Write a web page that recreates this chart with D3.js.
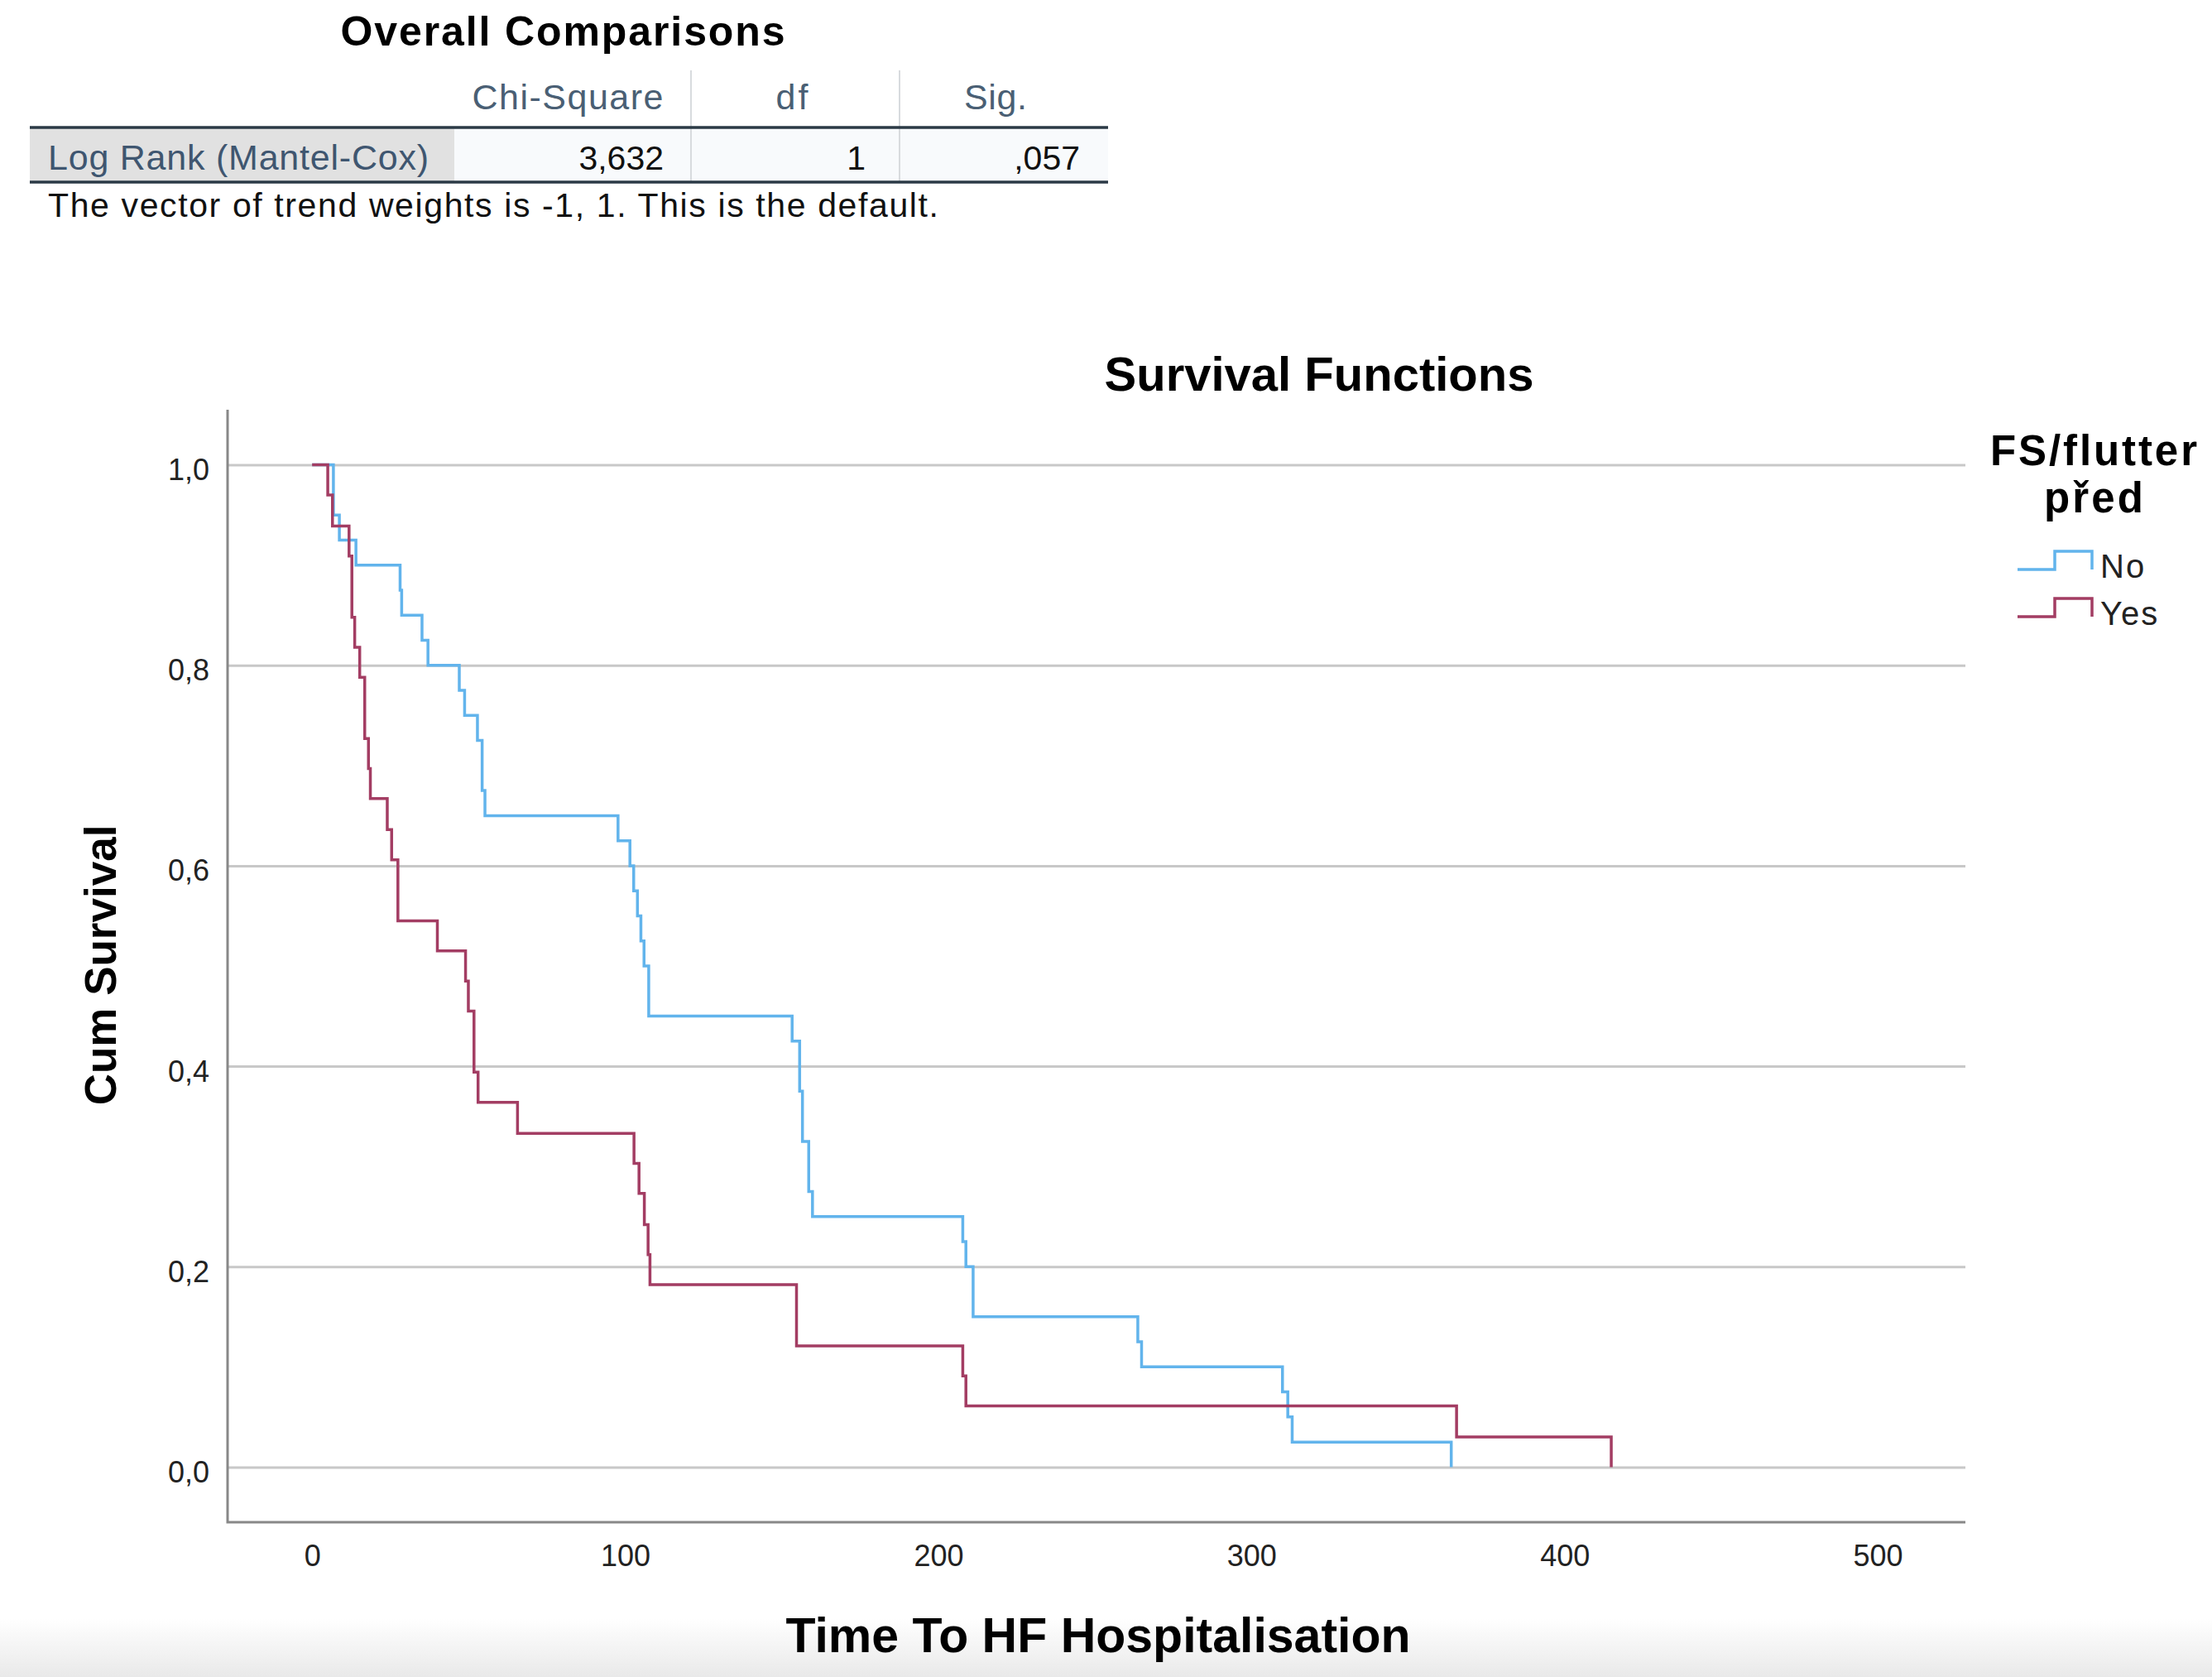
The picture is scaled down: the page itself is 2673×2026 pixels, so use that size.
<!DOCTYPE html>
<html>
<head>
<meta charset="utf-8">
<script src="https://cdn.jsdelivr.net/npm/d3@7"></script>
<style>
    body { margin: 0; background: #fff; }
    svg text { font-family: "Liberation Sans", Arial, sans-serif; }
</style>
</head>
<body>
<div id="chart"></div>
<script>

const groupNames = ["No", "Yes"];

// FS/flutter před = No
const noTimes = [0, 6.8, 8.7, 14, 28.1, 28.6, 35.1, 37, 47, 48.7, 52.8, 54.3, 55.2, 97.7, 101.5,
    102.7, 103.9, 105, 106, 107.5, 153.3, 155.7, 156.6, 158.6, 159.8, 207.8, 208.8, 211.1,
    263.7, 264.9, 309.9, 311.6, 313, 363.8];
const noSurvival = [1, 0.95, 0.925, 0.9, 0.875, 0.85, 0.825, 0.8, 0.775, 0.75, 0.725, 0.675, 0.65, 0.625, 0.6,
    0.575, 0.55, 0.525, 0.5, 0.45, 0.425, 0.375, 0.325, 0.275, 0.25, 0.225, 0.2, 0.15,
    0.125, 0.1, 0.075, 0.05, 0.025, 0];

// FS/flutter před = Yes
const yesTimes = [0, 5, 6.5, 11.8, 12.7, 13.6, 15.2, 16.8, 18, 18.6, 24, 25.4, 27.4, 40, 49,
    49.9, 51.7, 53, 65.6, 102.8, 104.4, 106.1, 107.3, 107.9, 154.7, 207.8, 208.8, 365.5, 414.9];
const yesSurvival = [1, 0.970, 0.939, 0.909, 0.848, 0.818, 0.788, 0.727, 0.697, 0.667, 0.636, 0.606, 0.545, 0.515, 0.485,
    0.455, 0.394, 0.364, 0.333, 0.303, 0.273, 0.242, 0.212, 0.182, 0.121, 0.091, 0.061, 0.030, 0];

const xTicks = [0, 100, 200, 300, 400, 500];
const yTicks = [0, 0.2, 0.4, 0.6, 0.8, 1.0];

// comparison table
const tableTitle = "Overall Comparisons";
const tableHeaders = ["Chi-Square", "df", "Sig."];
const tableRowLabel = "Log Rank (Mantel-Cox)";
const tableValues = ["3,632", "1", ",057"];
const tableNote = "The vector of trend weights is -1, 1. This is the default.";


// ---------- page ----------

const W = 2673, H = 2026;

const svg = d3.select("#chart").append("svg")
    .attr("width", W)
    .attr("height", H);

// light grey strip at the bottom of the screenshot
let grad = svg.append("defs").append("linearGradient")
    .attr("id", "bottomFade")
    .attr("x1", 0).attr("x2", 0).attr("y1", 0).attr("y2", 1);
grad.append("stop").attr("offset", "0%").attr("stop-color", "#ffffff");
grad.append("stop").attr("offset", "100%").attr("stop-color", "#e9e9e9");
svg.append("rect")
    .attr("x", 0).attr("y", 1955)
    .attr("width", W).attr("height", H - 1955)
    .attr("fill", "url(#bottomFade)");


// ---------- table ----------

function drawTable() {
    let t = svg.append("g").attr("class", "table");

    let colEdges = [36, 549, 835, 1087, 1339];
    let headerCenter = [686, 957, 1203];
    let headerWidth = [231, 39, 76];
    let valueRight = [802, 1046, 1305];

    t.append("text")
        .attr("x", 680)
        .attr("y", 55)
        .attr("text-anchor", "middle")
        .attr("font-size", 50)
        .attr("font-weight", "bold")
        .attr("textLength", 537)
        .attr("fill", "#000")
        .text(tableTitle);

    // row cells
    t.append("rect")
        .attr("x", colEdges[0]).attr("y", 154)
        .attr("width", colEdges[1] - colEdges[0]).attr("height", 66)
        .attr("fill", "#e1e1e1");
    t.append("rect")
        .attr("x", colEdges[1]).attr("y", 154)
        .attr("width", colEdges[4] - colEdges[1]).attr("height", 66)
        .attr("fill", "#f8fafc");

    // column separators
    t.selectAll("line.sep")
        .data(colEdges.slice(2, 4))
        .enter()
        .append("line")
        .attr("class", "sep")
        .attr("x1", d => d).attr("x2", d => d)
        .attr("y1", 85).attr("y2", 220)
        .attr("stroke", "#d8dbde")
        .attr("stroke-width", 2);

    t.selectAll("text.head")
        .data(tableHeaders)
        .enter()
        .append("text")
        .attr("class", "head")
        .attr("x", (d, i) => headerCenter[i])
        .attr("y", 132)
        .attr("text-anchor", "middle")
        .attr("font-size", 43)
        .attr("textLength", (d, i) => headerWidth[i])
        .attr("fill", "#4a5f74")
        .text(d => d);

    [154, 220].forEach(y => {
        t.append("line")
            .attr("x1", colEdges[0]).attr("x2", colEdges[4])
            .attr("y1", y).attr("y2", y)
            .attr("stroke", "#2b3a46")
            .attr("stroke-width", 3.5);
    });

    t.append("text")
        .attr("x", 58)
        .attr("y", 205)
        .attr("font-size", 43)
        .attr("textLength", 460)
        .attr("fill", "#3f5670")
        .text(tableRowLabel);

    t.selectAll("text.val")
        .data(tableValues)
        .enter()
        .append("text")
        .attr("class", "val")
        .attr("x", (d, i) => valueRight[i])
        .attr("y", 205)
        .attr("text-anchor", "end")
        .attr("font-size", 41)
        .attr("fill", "#111")
        .text(d => d);

    t.append("text")
        .attr("x", 58)
        .attr("y", 262)
        .attr("font-size", 41)
        .attr("textLength", 1076)
        .attr("fill", "#111")
        .text(tableNote);
}


// ---------- survival chart ----------

class SurvivalChart {

    constructor(parent) {
        this.parent = parent;
        this.initVis();
    }

    initVis() {
        let vis = this;

        // plot frame in page pixels
        vis.left = 275;
        vis.right = 2375;
        vis.top = 495;
        vis.bottom = 1839;

        vis.g = vis.parent.append("g").attr("class", "km");

        vis.x = d3.scaleLinear()
            .domain([-27, 528])
            .range([vis.left, vis.right]);
        vis.y = d3.scaleLinear()
            .domain([-0.055, 1.055])
            .range([vis.bottom, vis.top]);

        let comma = d3.formatLocale({decimal: ",", thousands: ".", grouping: [3], currency: ["", ""]});

        // y axis + grid lines
        vis.yAxis = d3.axisLeft(vis.y)
            .tickValues(yTicks)
            .tickSize(-(vis.right - vis.left))
            .tickPadding(22)
            .tickFormat(comma.format(".1f"));

        vis.yG = vis.g.append("g")
            .attr("transform", "translate(" + vis.left + ",0)")
            .call(vis.yAxis);
        vis.yG.select(".domain").remove();
        vis.yG.selectAll(".tick line")
            .attr("stroke", "#c8c8c8")
            .attr("stroke-width", 3);
        vis.yG.selectAll(".tick text")
            .attr("font-size", 36)
            .attr("dy", "0.5em")
            .attr("fill", "#222");

        // x axis
        vis.xAxis = d3.axisBottom(vis.x)
            .tickValues(xTicks)
            .tickSize(0)
            .tickPadding(27)
            .tickFormat(d3.format("d"));

        vis.xG = vis.g.append("g")
            .attr("transform", "translate(0," + vis.bottom + ")")
            .call(vis.xAxis);
        vis.xG.select(".domain").remove();
        vis.xG.selectAll(".tick text")
            .attr("font-size", 36)
            .attr("fill", "#222");

        // L shaped frame
        vis.g.append("path")
            .attr("d", "M" + vis.left + "," + vis.top + "V" + vis.bottom + "H" + vis.right)
            .attr("fill", "none")
            .attr("stroke", "#888")
            .attr("stroke-width", 3);

        // titles
        vis.g.append("text")
            .attr("x", 1594)
            .attr("y", 472)
            .attr("text-anchor", "middle")
            .attr("font-size", 58)
            .attr("font-weight", "bold")
            .text("Survival Functions");

        vis.g.append("text")
            .attr("transform", "translate(140,1166) rotate(-90)")
            .attr("text-anchor", "middle")
            .attr("font-size", 53)
            .attr("font-weight", "bold")
            .text("Cum Survival");

        vis.g.append("text")
            .attr("x", 1327)
            .attr("y", 1996)
            .attr("text-anchor", "middle")
            .attr("font-size", 59)
            .attr("font-weight", "bold")
            .text("Time To HF Hospitalisation");

        vis.line = d3.line()
            .x(d => vis.x(d.t))
            .y(d => vis.y(d.s))
            .curve(d3.curveStepAfter);
    }

    updateVis(series) {
        let vis = this;

        vis.g.selectAll("path.curve")
            .data(series)
            .enter()
            .append("path")
            .attr("class", "curve")
            .attr("d", d => vis.line(d.values))
            .attr("fill", "none")
            .attr("stroke", d => d.color)
            .attr("stroke-width", 3.5)
            .attr("stroke-linejoin", "miter");

        // legend
        let leg = vis.parent.append("g").attr("class", "legend");

        leg.append("text")
            .attr("x", 2530)
            .attr("y", 562)
            .attr("text-anchor", "middle")
            .attr("font-size", 51)
            .attr("font-weight", "bold")
            .attr("textLength", 250)
            .text("FS/flutter");
        leg.append("text")
            .attr("x", 2530)
            .attr("y", 619)
            .attr("text-anchor", "middle")
            .attr("font-size", 51)
            .attr("font-weight", "bold")
            .attr("textLength", 120)
            .text("před");

        let rowY = [688, 745];
        let sym = d3.line();

        series.forEach((s, i) => {
            let y0 = rowY[i], y1 = rowY[i] - 22;
            leg.append("path")
                .attr("d", sym([[2438, y0], [2483, y0], [2483, y1], [2528, y1], [2528, y0]]))
                .attr("fill", "none")
                .attr("stroke", s.color)
                .attr("stroke-width", 3.5);
            leg.append("text")
                .attr("x", 2538)
                .attr("y", y0 + 10)
                .attr("font-size", 40)
                .attr("letter-spacing", 2)
                .attr("fill", "#222")
                .text(s.name);
        });
    }
}


drawTable();

let series = [
    {name: groupNames[0], color: "#62b4ec", values: noTimes.map((t, i) => ({t: t, s: noSurvival[i]}))},
    {name: groupNames[1], color: "#a33d63", values: yesTimes.map((t, i) => ({t: t, s: yesSurvival[i]}))}
];

let chart = new SurvivalChart(svg);
chart.updateVis(series);

</script>
</body>
</html>
